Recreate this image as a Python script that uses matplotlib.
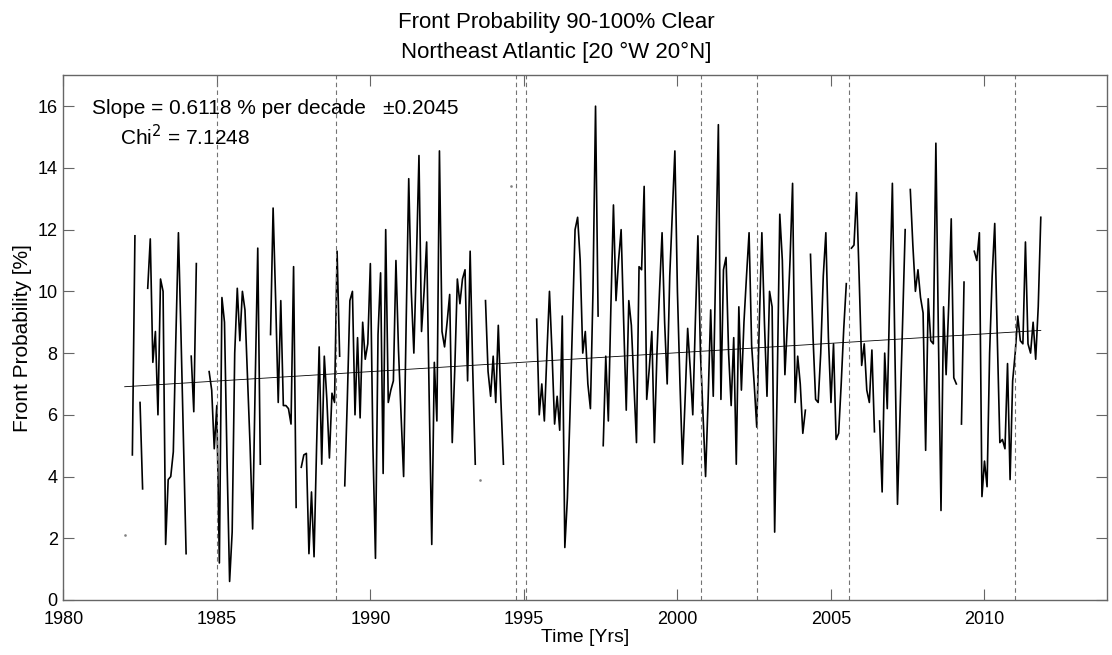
import numpy as np
import matplotlib
matplotlib.use("Agg")
import matplotlib.pyplot as plt

# -------------------------
# DATA (monthly, starting Jan 1982)
# -------------------------

nan = np.nan
START_YEAR = 1982.0

front_prob = [
    2.1, nan, nan, 4.7, 11.8, nan, 6.4, 3.6, nan, 10.1, 11.7, 7.7,          # 1982
    8.7, 6.0, 10.4, 10.0, 1.8, 3.9, 4.0, 4.8, 8.5, 11.9, 8.6, 5.0,          # 1983
    1.5, nan, 7.9, 6.1, 10.9, nan, nan, nan, nan, 7.4, 6.8, 4.9,            # 1984
    6.3, 1.2, 9.8, 9.0, 4.5, 0.6, 2.2, 8.0, 10.1, 8.4, 10.0, 9.4,           # 1985
    7.2, 5.0, 2.3, 7.0, 11.4, 4.4, nan, nan, nan, 8.6, 12.7, 9.7,           # 1986
    6.4, 9.7, 6.3, 6.3, 6.2, 5.7, 10.8, 3.0, nan, 4.3, 4.7, 4.75,           # 1987
    1.5, 3.5, 1.4, 5.0, 8.2, 4.4, 7.9, 6.5, 4.6, 6.7, 6.4, 11.3,            # 1988
    7.9, nan, 3.7, 6.5, 9.7, 10.0, 6.0, 8.5, 5.9, 9.0, 7.8, 8.3,            # 1989
    10.9, 5.0, 1.35, 8.6, 10.6, 4.1, 12.0, 6.4, 6.8, 7.1, 11.0, 8.1,        # 1990
    6.0, 4.0, 9.0, 13.65, 10.0, 8.0, 11.0, 14.4, 8.7, 10.0, 11.6, 6.5,      # 1991
    1.8, 7.7, 5.8, 14.55, 8.7, 8.2, 9.0, 9.9, 5.1, 7.5, 10.4, 9.6,          # 1992
    10.4, 10.7, 7.1, 11.3, 7.5, 4.4, nan, 3.9, nan, 9.7, 7.4, 6.6,          # 1993
    7.9, 6.4, 8.9, 6.5, 4.4, nan, nan, 13.4, nan, nan, nan, nan,            # 1994
    nan, nan, nan, nan, nan, 9.1, 6.0, 7.0, 5.8, 8.0, 10.0, 8.0,            # 1995
    5.7, 6.6, 5.5, 9.2, 1.7, 3.3, 6.0, 9.0, 12.0, 12.4, 11.0, 8.0,          # 1996
    8.7, 7.0, 6.2, 10.0, 16.0, 9.2, nan, 5.0, 7.9, 5.8, 9.5, 12.8,          # 1997
    9.7, 11.0, 12.0, 9.0, 6.15, 9.7, 8.9, 7.0, 5.1, 10.8, 10.7, 13.4,       # 1998
    6.5, 7.5, 8.7, 5.1, 8.0, 10.0, 11.9, 9.0, 7.0, 10.5, 12.5, 14.55,       # 1999
    10.0, 7.0, 4.4, 6.5, 8.8, 7.5, 6.0, 9.0, 11.8, 8.0, 6.0, 4.0,           # 2000
    6.5, 9.4, 6.6, 11.0, 15.4, 6.5, 10.7, 11.1, 8.0, 6.3, 8.5, 4.4,         # 2001
    9.5, 6.8, 9.0, 10.5, 11.9, 8.25, 7.0, 5.6, 9.0, 11.9, 9.0, 6.6,         # 2002
    10.0, 9.5, 2.2, 7.0, 12.5, 11.0, 7.3, 9.0, 11.0, 13.5, 6.4, 7.9,        # 2003
    7.0, 5.4, 6.15, nan, 11.2, 8.5, 6.5, 6.4, 8.0, 10.5, 11.9, 8.5,         # 2004
    6.4, 8.3, 5.2, 5.4, 7.0, 8.8, 10.25, nan, 11.4, 11.5, 13.2, 10.5,       # 2005
    7.6, 8.3, 6.8, 6.4, 8.1, 5.45, nan, 5.8, 3.5, 8.0, 6.2, 10.0,           # 2006
    13.5, 8.0, 3.1, 6.0, 9.0, 12.0, nan, 13.3, 11.5, 10.0, 10.7, 9.8,       # 2007
    9.3, 4.85, 9.76, 8.4, 8.3, 14.8, 8.5, 2.9, 9.5, 7.3, 9.5, 12.35,        # 2008
    7.2, 7.0, nan, 5.7, 10.3, nan, nan, nan, 11.3, 11.0, 11.9, 3.35,        # 2009
    4.5, 3.67, 8.0, 10.5, 12.2, 8.5, 5.1, 5.2, 4.9, 7.66, 3.9, 7.1,         # 2010
    8.0, 9.2, 8.4, 8.3, 11.6, 8.3, 8.0, 9.0, 7.8, 9.5, 12.4,                # 2011
]

# sensor change dates (dashed lines)
sat_changes = [1985.0, 1988.89, 1994.75, 1995.07, 2000.78, 2002.59, 2005.58, 2011.0]

SLOPE_DECADE = 0.6118
SLOPE_ERR = 0.2045
CHI2 = 7.1248
TREND_START = 6.91   # trend value at START_YEAR

# -------------------------
# PLOT
# -------------------------

plt.rcParams['font.family'] = ['Liberation Sans', 'DejaVu Sans']

vals = np.array(front_prob, dtype=float)
t = START_YEAR + np.arange(len(vals)) / 12.0

fig = plt.figure(figsize=(11.12, 6.55), dpi=100)
ax = fig.add_axes([0.0569, 0.084, 0.9389, 0.801])

ax.plot(t, vals, color='black', lw=1.2)

# single months with no neighbours show up only as dots
ok = ~np.isnan(vals)
prev_ok = np.r_[False, ok[:-1]]
next_ok = np.r_[ok[1:], False]
lone = ok & ~prev_ok & ~next_ok
ax.plot(t[lone], vals[lone], ls='none', marker='s', ms=0.8, color='0.5')

trend_t = np.array([t[0], t[-1]])
trend_v = TREND_START + SLOPE_DECADE / 10.0 * (trend_t - START_YEAR)
ax.plot(trend_t, trend_v, color='black', lw=0.6)

for x in sat_changes:
    ax.axvline(x, color='0.45', lw=0.8, ls=(0, (4, 3)))

ax.set_xlim(1980, 2014)
ax.set_ylim(0, 17)
ax.set_xticks(range(1980, 2011, 5))
ax.set_yticks(range(0, 17, 2))
ax.tick_params(direction='in', length=8, width=0.8, color='0.4',
               top=True, right=True, labelsize=13)
ax.tick_params(axis='x', pad=8)
ax.tick_params(axis='y', pad=4)
for s in ax.spines.values():
    s.set_color('0.4')
    s.set_linewidth(1.0)

ax.set_xlabel('Time [Yrs]', fontsize=14, labelpad=1)
ax.set_ylabel('Front Probability [%]', fontsize=15, labelpad=4)

ax.text(1980.945, 15.75, f'Slope = {SLOPE_DECADE:.4f} % per decade   \u00b1{SLOPE_ERR:.4f}',
        fontsize=15, va='baseline', ha='left')
ax.text(1981.85, 14.72, f'Chi$^2$ = {CHI2:.4f}', fontsize=15, va='baseline', ha='left')

fig.text(0.5, 1 - 28 / 655, 'Front Probability 90-100% Clear',
         fontsize=16, ha='center', va='baseline')
fig.text(0.5, 1 - 58 / 655, 'Northeast Atlantic [20 \u00b0W 20\u00b0N]',
         fontsize=16, ha='center', va='baseline')

fig.savefig('out.png', dpi=100)
